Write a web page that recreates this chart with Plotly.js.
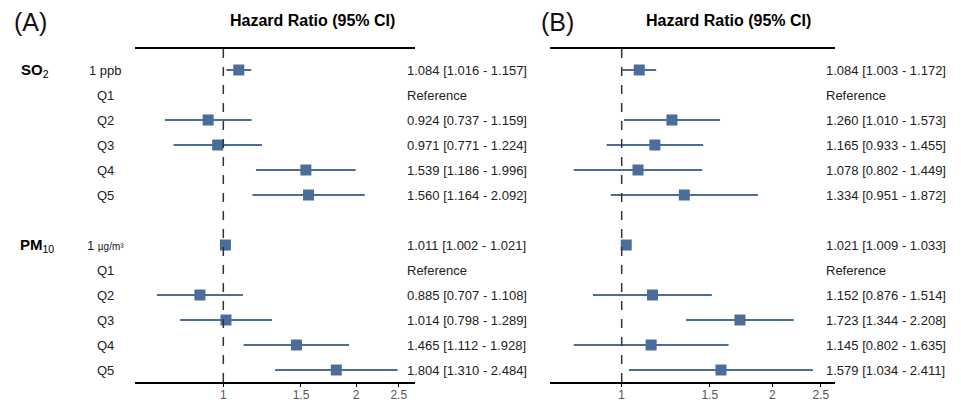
<!DOCTYPE html>
<html>
<head>
<meta charset="utf-8">
<script src="https://cdn.plot.ly/plotly-3.0.1.min.js"></script>
<style>html,body{margin:0;padding:0;background:#fff;}#chart{width:961px;height:404px;}</style>
</head>
<body>
<div id="chart"></div>
<script>
// Row labels (rows 0-5 SO2, blank row 6, rows 7-12 PM10)
const groupLabels = ["<b>SO</b><sub>2</sub>", "<b>PM</b><sub>10</sub>"];
const rowLabels = ["1 ppb", "Q1", "Q2", "Q3", "Q4", "Q5"];
const rowLabelsPM = ["1 <span style='font-size:10px'>µg/m³</span>", "Q1", "Q2", "Q3", "Q4", "Q5"];

// Panel A
const hrA = [1.084, null, 0.924, 0.971, 1.539, 1.560, 1.011, null, 0.885, 1.014, 1.465, 1.804];
const loA = [1.016, null, 0.737, 0.771, 1.186, 1.164, 1.002, null, 0.707, 0.798, 1.112, 1.310];
const hiA = [1.157, null, 1.159, 1.224, 1.996, 2.092, 1.021, null, 1.108, 1.289, 1.928, 2.484];

// Panel B
const hrB = [1.084, null, 1.260, 1.165, 1.078, 1.334, 1.021, null, 1.152, 1.723, 1.145, 1.579];
const loB = [1.003, null, 1.010, 0.933, 0.802, 0.951, 1.009, null, 0.876, 1.344, 0.802, 1.034];
const hiB = [1.172, null, 1.573, 1.455, 1.449, 1.872, 1.033, null, 1.514, 2.208, 1.635, 2.411];

const tickVals = [1, 1.5, 2, 2.5];
const tickText = ["1", "1.5", "2", "2.5"];

const rowPos = [0, 1, 2, 3, 4, 5, 7, 8, 9, 10, 11, 12];
const blue = "#4a6d9c";
const txtColor = "#222";
const FONT = "Liberation Sans, Arial, sans-serif";

function panelTraces(hr, lo, hi, xa) {
  const traces = [];
  const lx = [], ly = [];
  for (let i = 0; i < hr.length; i++) {
    if (hr[i] === null) continue;
    lx.push(lo[i], hi[i], null);
    ly.push(rowPos[i], rowPos[i], null);
  }
  traces.push({x: lx, y: ly, xaxis: xa, yaxis: "y", mode: "lines", type: "scatter",
    line: {color: blue, width: 2}, hoverinfo: "skip", showlegend: false});
  const px = [], py = [];
  for (let i = 0; i < hr.length; i++) {
    if (hr[i] === null) continue;
    px.push(hr[i]); py.push(rowPos[i]);
  }
  traces.push({x: px, y: py, xaxis: xa, yaxis: "y", mode: "markers", type: "scatter",
    marker: {symbol: "square", size: 11, color: blue}, showlegend: false});
  return traces;
}

function fmt(hr, lo, hi, i) {
  if (hr[i] === null) return "Reference";
  return hr[i].toFixed(3) + " [" + lo[i].toFixed(3) + " - " + hi[i].toFixed(3) + "]";
}

const data = [].concat(panelTraces(hrA, loA, hiA, "x"), panelTraces(hrB, loB, hiB, "x2"));

const annotations = [];
const f13 = {family: FONT, size: 13, color: txtColor};
for (let i = 0; i < hrA.length; i++) {
  annotations.push({xref: "paper", yref: "y", x: 405/961, y: rowPos[i], text: fmt(hrA, loA, hiA, i),
    showarrow: false, xanchor: "left", yanchor: "middle", font: f13});
  annotations.push({xref: "paper", yref: "y", x: 824/961, y: rowPos[i], text: fmt(hrB, loB, hiB, i),
    showarrow: false, xanchor: "left", yanchor: "middle", font: f13});
}
for (let k = 0; k < 6; k++) {
  annotations.push({xref: "paper", yref: "y", x: 105/961, y: rowPos[k], text: rowLabels[k],
    showarrow: false, xanchor: "center", yanchor: "middle", font: f13});
  annotations.push({xref: "paper", yref: "y", x: 105/961, y: rowPos[k + 6], text: rowLabelsPM[k],
    showarrow: false, xanchor: "center", yanchor: "middle", font: f13});
}
annotations.push({xref: "paper", yref: "y", x: 19/961, y: 0, text: groupLabels[0], showarrow: false,
  xanchor: "left", yanchor: "middle", font: {family: FONT, size: 15, color: "#000"}});
annotations.push({xref: "paper", yref: "y", x: 18/961, y: 7, text: groupLabels[1], showarrow: false,
  xanchor: "left", yanchor: "middle", font: {family: FONT, size: 15, color: "#000"}});
// headers
const hFont = {family: FONT, size: 16, color: "#000"};
annotations.push({xref: "paper", yref: "paper", x: 312/961, y: 1 - 20/404, text: "<b>Hazard Ratio (95% CI)</b>",
  showarrow: false, xanchor: "center", yanchor: "middle", font: hFont});
annotations.push({xref: "paper", yref: "paper", x: 728/961, y: 1 - 20/404, text: "<b>Hazard Ratio (95% CI)</b>",
  showarrow: false, xanchor: "center", yanchor: "middle", font: hFont});
const pFont = {family: FONT, size: 25, color: "#111"};
annotations.push({xref: "paper", yref: "paper", x: 12/961, y: 1 - 22/404, text: "(A)",
  showarrow: false, xanchor: "left", yanchor: "middle", font: pFont});
annotations.push({xref: "paper", yref: "paper", x: 539/961, y: 1 - 22/404, text: "(B)",
  showarrow: false, xanchor: "left", yanchor: "middle", font: pFont});

const yTop = -0.84, yBot = 12.48;
const shapes = [
  {type: "line", xref: "x", yref: "y", x0: 1, x1: 1, y0: yTop, y1: yBot, line: {color: "#333", width: 1.5, dash: "dash"}},
  {type: "line", xref: "x2", yref: "y", x0: 1, x1: 1, y0: yTop, y1: yBot, line: {color: "#333", width: 1.5, dash: "dash"}}
];

function xaxisDef(domain, range) {
  return {type: "log", domain: domain, range: range, anchor: "y",
    showline: true, mirror: true, linecolor: "#000", linewidth: 2,
    showgrid: false, zeroline: false, ticks: "outside", ticklen: 3, tickwidth: 1, tickcolor: "#000",
    tickvals: tickVals, ticktext: tickText, ticklabelstandoff: -2,
    tickfont: {family: FONT, size: 12, color: "#555"}, fixedrange: true};
}

const layout = {
  width: 961, height: 404,
  margin: {l: 0, r: 0, t: 0, b: 0},
  paper_bgcolor: "#fff", plot_bgcolor: "rgba(0,0,0,0)",
  xaxis: xaxisDef([135/961, 415/961], [-0.2003, 0.4347]),
  xaxis2: xaxisDef([550/961, 835/961], [-0.1433, 0.4263]),
  yaxis: {domain: [22/404, 1 - 49/404], range: [yBot, yTop], visible: false, fixedrange: true},
  annotations: annotations,
  shapes: shapes,
  showlegend: false
};

Plotly.newPlot("chart", data, layout, {displayModeBar: false, staticPlot: true});
</script>
</body>
</html>
